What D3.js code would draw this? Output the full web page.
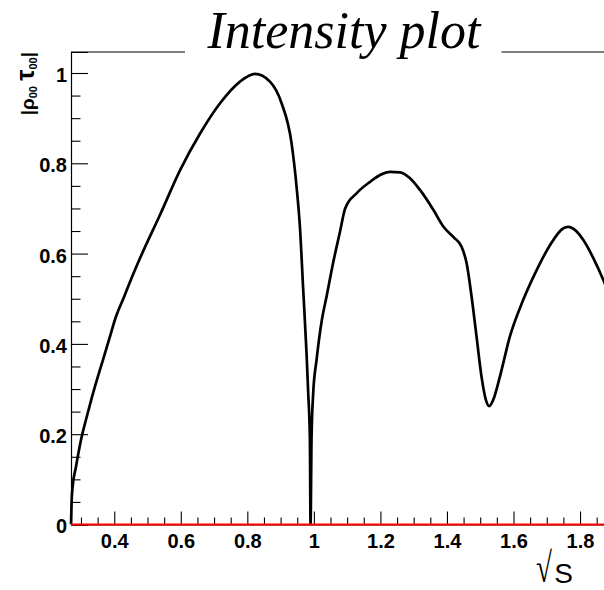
<!DOCTYPE html>
<html>
<head>
<meta charset="utf-8">
<script src="https://cdn.jsdelivr.net/npm/d3@7"></script>
<style>
  html, body { margin: 0; padding: 0; background: #fff; }
  svg { display: block; }
</style>
</head>
<body>
<svg id="chart" width="604" height="590"></svg>
<script>
// ---- data ----
const sqrtS = [0.270, 0.272, 0.275, 0.285, 0.300, 0.315, 0.330, 0.345, 0.365, 0.385, 0.405,
  0.430, 0.450, 0.477, 0.537, 0.598, 0.658, 0.718, 0.778, 0.823, 0.868, 0.903, 0.933, 0.948,
  0.958, 0.968, 0.978, 0.983, 0.988, 0.990, 0.993, 0.998, 1.008, 1.024, 1.039, 1.058, 1.079,
  1.094, 1.129, 1.169, 1.199, 1.229, 1.259, 1.289, 1.319, 1.359, 1.389, 1.419, 1.444, 1.459,
  1.474, 1.489, 1.504, 1.517, 1.527, 1.539, 1.559, 1.589, 1.629, 1.670, 1.710, 1.750, 1.765,
  1.780, 1.810, 1.840, 1.872, 1.895];
const intensity = [0.000, 0.054, 0.084, 0.128, 0.187, 0.232, 0.274, 0.313, 0.362, 0.411, 0.460,
  0.505, 0.542, 0.589, 0.685, 0.785, 0.866, 0.933, 0.981, 0.998, 0.981, 0.933, 0.844, 0.748,
  0.660, 0.519, 0.379, 0.291, 0.191, 0.000, 0.191, 0.291, 0.364, 0.453, 0.508, 0.580, 0.650,
  0.700, 0.734, 0.759, 0.774, 0.781, 0.780, 0.767, 0.741, 0.697, 0.660, 0.637, 0.615, 0.579,
  0.505, 0.416, 0.327, 0.276, 0.262, 0.276, 0.327, 0.416, 0.497, 0.564, 0.619, 0.656, 0.659,
  0.655, 0.630, 0.590, 0.538, 0.495];

const xMajorTicks = [0.4, 0.6, 0.8, 1.0, 1.2, 1.4, 1.6, 1.8];
const xTickLabels = ["0.4", "0.6", "0.8", "1", "1.2", "1.4", "1.6", "1.8"];
const yMajorTicks = [0, 0.2, 0.4, 0.6, 0.8, 1.0];
const yTickLabels = ["0", "0.2", "0.4", "0.6", "0.8", "1"];
const xMinorTicks = d3.range(0, 34).map(i => +(0.3 + i * 0.05).toFixed(2)).filter(v => v <= 1.9);
const yMinorTicks = d3.range(0, 21).map(i => +(i * 0.05).toFixed(2));

const titleText = "Intensity plot";

// ---- layout ----
const svg = d3.select("#chart");
const mLeft = 71, mTop = 52, mBottom = 524.5, mRight = 613.3;

const x = d3.scaleLinear().domain([0.27, 1.9]).range([mLeft, mRight]);
const y = d3.scaleLinear().domain([0, 1.0465]).range([mBottom, mTop]);

const labelFont = "'Liberation Sans', Arial, Helvetica, sans-serif";

// frame (top)
svg.append("line").attr("x1", mLeft).attr("x2", 604).attr("y1", mTop).attr("y2", mTop)
  .attr("stroke", "#000").attr("stroke-width", 1);

// y axis major
const yAxis = svg.append("g").attr("transform", `translate(${mLeft},0)`)
  .call(d3.axisLeft(y).tickValues(yMajorTicks)
    .tickFormat((d, i) => yTickLabels[i]).tickSize(-17).tickPadding(4));
yAxis.select(".domain").attr("stroke", "#000").attr("stroke-width", 1.2);
yAxis.selectAll(".tick line").attr("stroke", "#000").attr("stroke-width", 1.1);
yAxis.selectAll(".tick text").attr("font-family", labelFont).attr("font-weight", "bold")
  .attr("font-size", 20).attr("fill", "#000").attr("dy", "0.42em");

// y axis minor
const yMinor = svg.append("g").attr("transform", `translate(${mLeft},0)`)
  .call(d3.axisLeft(y).tickValues(yMinorTicks.filter(v => !yMajorTicks.some(m => Math.abs(m - v) < 1e-6)))
    .tickFormat("").tickSize(-9.5));
yMinor.select(".domain").remove();
yMinor.selectAll(".tick line").attr("stroke", "#000").attr("stroke-width", 1.1);

// x axis major
const xAxis = svg.append("g").attr("transform", `translate(0,${mBottom})`)
  .call(d3.axisBottom(x).tickValues(xMajorTicks)
    .tickFormat((d, i) => xTickLabels[i]).tickSize(-13).tickPadding(9));
xAxis.select(".domain").attr("stroke", "#000").attr("stroke-width", 1);
xAxis.selectAll(".tick line").attr("stroke", "#000").attr("stroke-width", 1.1);
xAxis.selectAll(".tick text").attr("font-family", labelFont).attr("font-weight", "bold")
  .attr("font-size", 20).attr("fill", "#000");

// x axis minor
const xMinor = svg.append("g").attr("transform", `translate(0,${mBottom})`)
  .call(d3.axisBottom(x).tickValues(xMinorTicks.filter(v => !xMajorTicks.some(m => Math.abs(m - v) < 1e-6)))
    .tickFormat("").tickSize(-7));
xMinor.select(".domain").remove();
xMinor.selectAll(".tick line").attr("stroke", "#000").attr("stroke-width", 1.1);

// clip
svg.append("clipPath").attr("id", "plotclip").append("rect")
  .attr("x", mLeft - 2).attr("y", mTop).attr("width", mRight - mLeft + 2).attr("height", mBottom - mTop);

// curve
const pts = sqrtS.map((s, i) => [s, intensity[i]]);
const line = d3.line().x(d => x(d[0])).y(d => y(d[1])).curve(d3.curveMonotoneX);
svg.append("path").datum(pts).attr("d", line).attr("fill", "none")
  .attr("stroke", "#000").attr("stroke-width", 2.7).attr("stroke-linejoin", "round")
  .attr("clip-path", "url(#plotclip)");

// red zero line
svg.append("line").attr("x1", x(0.27)).attr("x2", 604).attr("y1", y(0)).attr("y2", y(0))
  .attr("stroke", "#ff0000").attr("stroke-width", 2);

// title box
svg.append("rect").attr("x", 185).attr("y", 0).attr("width", 316.5).attr("height", 60).attr("fill", "#fff");
svg.append("text").attr("x", 344).attr("y", 47.7).attr("text-anchor", "middle")
  .attr("font-family", "'Liberation Serif', 'Times New Roman', serif")
  .attr("font-style", "italic").attr("font-size", 52).attr("fill", "#000").text(titleText);

// x axis title: sqrt(s)
svg.append("text").attr("transform", "translate(544,582) scale(1,1.45)")
  .attr("text-anchor", "middle").attr("font-family", "'Liberation Serif', 'Times New Roman', serif")
  .attr("font-size", 29).attr("fill", "#000").text("√");
svg.append("text").attr("x", 573).attr("y", 583).attr("text-anchor", "end")
  .attr("font-family", labelFont).attr("font-size", 28).attr("fill", "#000").text("S");

// y axis title: |rho00 tau00|
const yt = svg.append("text").attr("transform", "translate(34,52) rotate(-90)")
  .attr("text-anchor", "end").attr("font-family", labelFont).attr("font-weight", "bold")
  .attr("font-size", 19).attr("fill", "#000");
yt.append("tspan").text("|ρ");
yt.append("tspan").attr("font-size", 11).attr("dy", 3).text("00");
yt.append("tspan").attr("dy", -3).text(" ");
yt.append("tspan").attr("font-size", 25).text("τ");
yt.append("tspan").attr("font-size", 11).attr("dy", 3).text("00");
yt.append("tspan").attr("dy", -3).text("|");
</script>
</body>
</html>
